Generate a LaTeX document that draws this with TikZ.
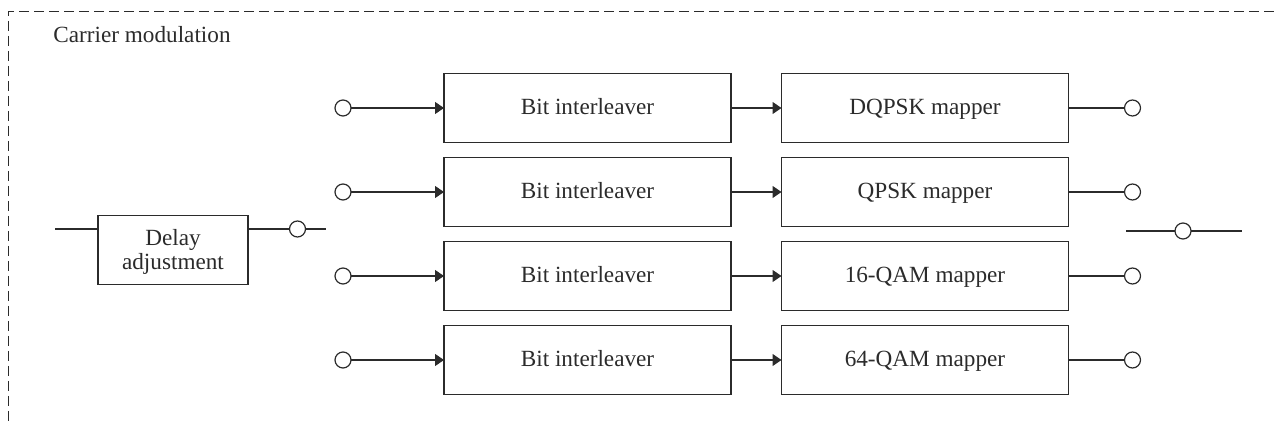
\documentclass[tikz,border=0pt]{standalone}
\usepackage{fontspec}
\setmainfont{Liberation Serif}
\usetikzlibrary{arrows.meta}
\definecolor{ink}{HTML}{2B2B2B}
\begin{document}
\begin{tikzpicture}[x=0.5pt,y=-0.5pt,
  font=\fontsize{11.6}{12}\selectfont,
  every node/.style={text=ink},
  blockbox/.style={draw=ink, line width=0.6pt, minimum width=143.5pt, minimum height=34.5pt, inner sep=0pt, outer sep=0pt},
  rowtext/.style={text height=9pt, text depth=2.4pt},
  port/.style={circle, draw=ink, line width=0.6pt, minimum size=8pt, inner sep=0pt, outer sep=0pt},
  wire/.style={draw=ink, line width=0.6pt},
  flow/.style={wire, -{Triangle[length=4.5pt,width=6pt]}},
  frame/.style={draw=ink, line width=0.6pt, dash pattern=on 5pt off 2.5pt}
]
\useasboundingbox (0,0) rectangle (1274,426);
\coordinate (fc) at (8.5,11.5);
\coordinate (fr) at (1274,11.5);
\coordinate (fb) at (8.5,426);
\draw[frame] (fr) -- (fc) -- (fb);
\node[anchor=base west, inner sep=0pt] (title) at (53,43) {Carrier modulation};

\node[blockbox, minimum width=75pt, minimum height=34.2pt, align=center] (delay) at (173,250) {\raisebox{0pt}[9.5pt][0pt]{Delay}\\adjustment};
\coordinate (din) at (55,229);
\node[port] (dport) at (297.5,229) {};
\coordinate (dout) at (326,229);
\draw[wire] (din) -- (din -| delay.west);
\draw[wire] (dport.west -| delay.east) -- (dport);
\draw[wire] (dport) -- (dout);

\foreach \i/\m in {0/DQPSK,1/QPSK,2/16-QAM,3/64-QAM}{
  \pgfmathsetmacro\yy{108+84*\i}
  \node[port] (in\i) at (343,\yy) {};
  \node[blockbox, rowtext] (bi\i) at (587.5,\yy) {Bit interleaver};
  \node[blockbox, rowtext] (map\i) at (925,\yy) {\m{} mapper};
  \node[port] (out\i) at (1132.5,\yy) {};
  \draw[flow] (in\i) -- (bi\i);
  \draw[flow] (bi\i) -- (map\i);
  \draw[wire] (map\i) -- (out\i);
}

\coordinate (ml) at (1126,231);
\node[port] (mport) at (1183,231) {};
\coordinate (mr) at (1242,231);
\draw[wire] (ml) -- (mport) -- (mr);
\end{tikzpicture}
\end{document}
